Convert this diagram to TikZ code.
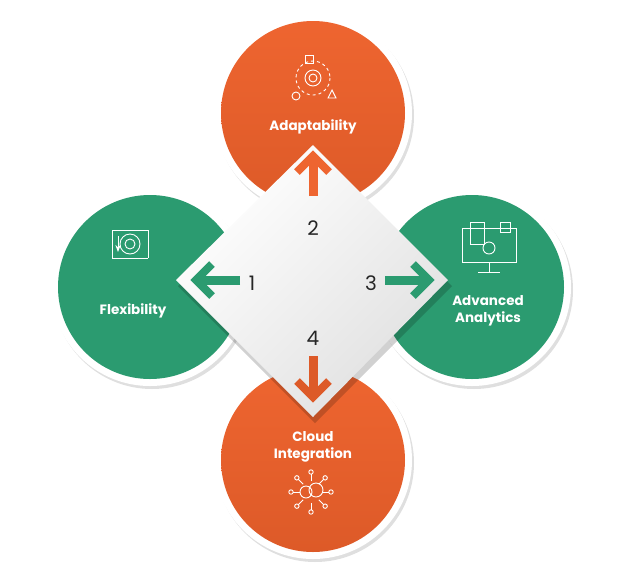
\documentclass[tikz,border=0pt]{standalone}
\usepackage{fontspec}
\setmainfont{Poppins}
\usetikzlibrary{shadows,arrows.meta}
\definecolor{org}{HTML}{EE6530}
\definecolor{orgd}{HTML}{DD5A28}
\definecolor{grn}{HTML}{2B9B70}
\definecolor{grnd}{HTML}{208A60}
\tikzset{
 ring/.style={circle,fill=white,minimum size=198pt,inner sep=0pt,drop shadow={opacity=0.25,shadow xshift=2pt,shadow yshift=-3pt}},
 disk/.style={circle,minimum size=184pt,inner sep=0pt},
 lbl/.style={text=white,font=\fontseries{sb}\selectfont\fontsize{13.5}{17}\selectfont,align=center},
 num/.style={font=\fontsize{20}{20}\selectfont,text=black!85},
 shaft/.style={line width=9pt},
 chev/.style={line width=8pt,miter limit=10},
 ico/.style={draw=white,line width=0.9pt}
}
\begin{document}
\begin{tikzpicture}[x=1pt,y=-1pt]
\useasboundingbox (0,0) rectangle (624,566);
% circles
\node[ring] (tr) at (313,113) {};
\node[disk,top color=org,bottom color=orgd] (t) at (313,113) {};
\node[ring] (br) at (313,460) {};
\node[disk,top color=org,bottom color=orgd] (b) at (313,460) {};
\node[ring] (lr) at (150,287) {};
\node[disk,fill=grn] (l) at (150,287) {};
\node[ring] (rr) at (472,287) {};
\node[disk,fill=grn] (r) at (472,287) {};
% diamond
\fill[black,opacity=0.18] (315,150) -- (452,286) -- (315,423) -- (178,286) -- cycle;
\path[top color=white,bottom color=black!12,shading angle=45] (313,145) -- (448,280) -- (313,417) -- (176,280) -- cycle;
\coordinate (c) at (313,280);
% arrows
\draw[shaft,grn] (240,280) -- (200,280);
\draw[chev,grn] (212,264) -- (196,280) -- (212,296);
\draw[shaft,org] (313,196) -- (313,158);
\draw[chev,org] (297,172) -- (313,156) -- (329,172);
\draw[shaft,grn] (385,280) -- (425,280);
\draw[chev,grn] (413,264) -- (429,280) -- (413,296);
\draw[shaft,orgd] (313,356) -- (313,395);
\draw[chev,orgd] (297,381) -- (313,397) -- (329,381);
\node[num] (n1) at (252,283) {1};
\node[num] (n2) at (313,228) {2};
\node[num] (n3) at (371,283) {3};
\node[num] (n4) at (313,338) {4};
% labels
\node[lbl] (la) at (313,127) {Adaptability};
\node[lbl] (lf) at (133,311) {Flexibility};
\node[lbl] (lan) at (488,311) {Advanced\\Analytics};
\node[lbl] (lc) at (313,447) {Cloud\\Integration};
% icons
\begin{scope}[ico]
 \draw (313,78) circle (8); \draw (313,78) circle (4);
 \draw[dashed] (313,78) circle (17);
 \draw (305,55) rectangle (313,63);
 \draw (296,96) circle (4);
 \draw (328,98) -- (336,98) -- (332,90) -- cycle;
 % flexibility
 \draw (130,244) circle (10); \draw (130,244) circle (5);
 \draw (112,230) -- (148,230); \draw (112,258) -- (148,258);
 \draw (112,230) -- (112,258); \draw (148,230) -- (148,258);
 \draw[-{Stealth}] (118,236) -- (118,252);
 % analytics
 \draw (462,228) rectangle (516,262);
 \draw (489,262) -- (489,272); \draw (478,272) -- (500,272);
 \draw (470,222) rectangle (484,244);
 \draw (489,248) circle (6);
 \draw (500,222) rectangle (510,232);
 % cloud
 \draw (306,492) circle (6); \draw (316,490) circle (7);
 \foreach \a in {0,45,...,315} { \draw (311,492) ++(\a:11) -- ++(\a:7); \draw (311,492) ++(\a:20) circle (2.2); }
\end{scope}
\end{tikzpicture}
\end{document}
